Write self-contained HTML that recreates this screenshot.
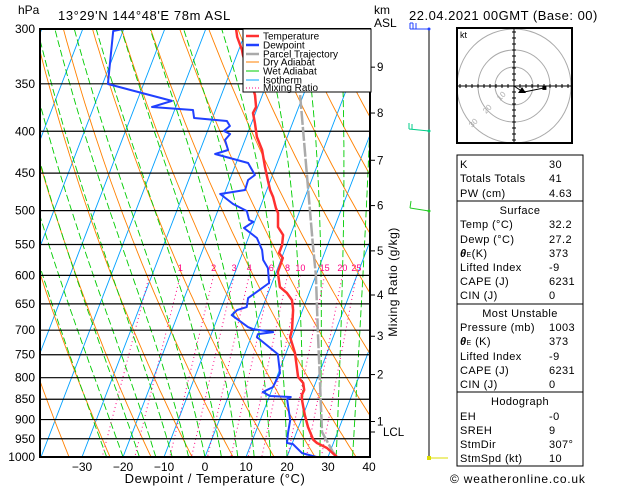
<!DOCTYPE html>
<html><head><meta charset="utf-8"><style>
html,body{margin:0;padding:0;background:#fff;}
svg{display:block;font-family:"Liberation Sans",sans-serif;}
</style></head><body>
<svg id="chart" width="629" height="486" viewBox="0 0 629 486" xmlns="http://www.w3.org/2000/svg">
<defs><clipPath id="plotclip"><rect x="40" y="29" width="330" height="428"/></clipPath>
<clipPath id="hodoclip"><rect x="457" y="28" width="115" height="115"/></clipPath></defs>
<rect x="0" y="0" width="629" height="486" fill="#fff"/>
<g id="grid" clip-path="url(#plotclip)"></g>
<g id="series" clip-path="url(#plotclip)"></g>
<g id="axes"></g>
<text x="18" y="14" font-size="12">hPa</text>
<text x="58" y="20" font-size="13" letter-spacing="0.6">13°29'N  144°48'E  78m  ASL</text>
<text x="374" y="14" font-size="12">km</text>
<text x="374" y="27" font-size="12">ASL</text>
<text x="409" y="20" font-size="13" letter-spacing="0.5">22.04.2021  00GMT  (Base: 00)</text>
<text x="215" y="483" font-size="13" text-anchor="middle" letter-spacing="0.6">Dewpoint / Temperature (°C)</text>
<text transform="translate(397,282) rotate(-90)" font-size="12" text-anchor="middle" letter-spacing="0.5">Mixing Ratio (g/kg)</text>
<g id="legend">
<rect x="243" y="29" width="128" height="63" fill="#fff" stroke="#000" stroke-width="1"/>
<line x1="246" y1="36" x2="259" y2="36" stroke="#ff3030" stroke-width="2.5"/><text x="263" y="39.5" font-size="10">Temperature</text>
<line x1="246" y1="45" x2="259" y2="45" stroke="#2040ff" stroke-width="2.5"/><text x="263" y="48.5" font-size="10">Dewpoint</text>
<line x1="246" y1="54" x2="259" y2="54" stroke="#aaa" stroke-width="2.5"/><text x="263" y="57.5" font-size="10">Parcel Trajectory</text>
<line x1="246" y1="62" x2="259" y2="62" stroke="#ff8000" stroke-width="1"/><text x="263" y="65.5" font-size="10">Dry Adiabat</text>
<line x1="246" y1="71" x2="259" y2="71" stroke="#00cc00" stroke-width="1"/><text x="263" y="74.5" font-size="10">Wet Adiabat</text>
<line x1="246" y1="80" x2="259" y2="80" stroke="#00a0ff" stroke-width="1"/><text x="263" y="83.5" font-size="10">Isotherm</text>
<line x1="246" y1="88" x2="259" y2="88" stroke="#ff0080" stroke-width="1" stroke-dasharray="1,2"/><text x="263" y="91" font-size="10">Mixing Ratio</text>
</g>
<g>
<line x1="429" y1="29" x2="429" y2="457" stroke="#000" stroke-width="1"/>
<path d="M429,29 L410,29 M410,29 L410,23 M413,29 L413,23 M416,29 L416,23 M410,23 L413,23" stroke="#2040ff" fill="none" stroke-width="1"/>
<circle cx="429" cy="29" r="1.5" fill="#2040ff"/>
<path d="M429,131 L409,129 M409,129 L409,123 M412,129 L412,124" stroke="#00cc88" fill="none" stroke-width="1"/>
<circle cx="429" cy="131" r="1.5" fill="#00cc88"/>
<path d="M429,211 L410,208 M410,208 L411,201" stroke="#22cc22" fill="none" stroke-width="1"/>
<circle cx="429" cy="211" r="1.5" fill="#22cc22"/>
<line x1="429" y1="458" x2="448" y2="458" stroke="#dddd00" stroke-width="1"/>
<rect x="427" y="456" width="4" height="4" fill="#dddd00"/>
</g>
<g id="hodo"></g>
<g font-size="11" letter-spacing="0.4">
<rect x="457" y="155" width="126" height="311" fill="#fff" stroke="#000" stroke-width="1"/>
<line x1="457" y1="201" x2="583" y2="201" stroke="#000"/>
<line x1="457" y1="304" x2="583" y2="304" stroke="#000"/>
<line x1="457" y1="392" x2="583" y2="392" stroke="#000"/>
<text x="460" y="168">K</text><text x="549" y="168">30</text>
<text x="460" y="182">Totals Totals</text><text x="549" y="182">41</text>
<text x="460" y="197">PW (cm)</text><text x="549" y="197">4.63</text>
<text x="520" y="214" text-anchor="middle">Surface</text>
<text x="460" y="228">Temp (°C)</text><text x="549" y="228">32.2</text>
<text x="460" y="243">Dewp (°C)</text><text x="549" y="243">27.2</text>
<text x="460" y="257"><tspan font-weight="bold" font-style="italic">θ</tspan><tspan font-size="7">E</tspan>(K)</text><text x="549" y="257">373</text>
<text x="460" y="271">Lifted Index</text><text x="549" y="271">-9</text>
<text x="460" y="285">CAPE (J)</text><text x="549" y="285">6231</text>
<text x="460" y="299">CIN (J)</text><text x="549" y="299">0</text>
<text x="520" y="317" text-anchor="middle">Most Unstable</text>
<text x="460" y="331">Pressure (mb)</text><text x="549" y="331">1003</text>
<text x="460" y="345"><tspan font-weight="bold" font-style="italic">θ</tspan><tspan font-size="7">E</tspan> (K)</text><text x="549" y="345">373</text>
<text x="460" y="360">Lifted Index</text><text x="549" y="360">-9</text>
<text x="460" y="374">CAPE (J)</text><text x="549" y="374">6231</text>
<text x="460" y="388">CIN (J)</text><text x="549" y="388">0</text>
<text x="520" y="405" text-anchor="middle">Hodograph</text>
<text x="460" y="420">EH</text><text x="549" y="420">-0</text>
<text x="460" y="434">SREH</text><text x="549" y="434">9</text>
<text x="460" y="448">StmDir</text><text x="549" y="448">307°</text>
<text x="460" y="462">StmSpd (kt)</text><text x="549" y="462">10</text>
</g>
<text x="450" y="483" font-size="12" letter-spacing="0.8">© weatheronline.co.uk</text>
</svg>
<script>
// ---- data ----
const pressureLevels = [300,350,400,450,500,550,600,650,700,750,800,850,900,950,1000];
const tempTicks = [-30,-20,-10,0,10,20,30,40];
const kmTicks = [1,2,3,4,5,6,7,8,9];
const kmPressures = [905,793,712,634,560,493,434,380,334];
const tempP = [300,306.8,318.3,322.8,361.2,373.6,380,390.8,406.5,421.6,442.3,458.8,471.9,481.3,496.3,503.4,523.6,535.5,550.8,558.6,563.4,571.4,594.5,619.9,630.6,643.2,661.5,699.8,713.7,746.6,798.5,812.1,828.4,840,851.9,888.6,919.1,952.9,961.5,975,1000];
const tempT = [-32.6,-31.6,-29.2,-28.5,-21.8,-20.4,-20.6,-19.2,-17.4,-14.9,-12.6,-10.7,-9.2,-7.8,-6.1,-5.1,-3.8,-1.8,-1.1,-1.1,-1.1,0.3,0.4,2.3,4.6,6.5,7.7,9.3,9.5,12.2,15.2,17.0,17.9,17.8,18.3,20.4,22.3,24.8,26.0,28.9,32.2];
const dewP = [300,301.7,350.2,367.3,373.6,376.8,385.3,388.6,394.1,399.7,403.1,409.9,421.6,426.4,437.3,452.4,458.8,471.9,477.2,490.8,500.6,513.4,516,525.1,540.1,558.6,574.6,587.7,613,639.5,655.9,661.5,670.9,694,697.9,703.8,707.8,713.7,748.7,789.7,821.4,833,842.4,844.8,850,901.3,934.9,961.5,964,989,1000];
const dewT = [-60.2,-62.4,-58.7,-41.5,-45.8,-35.5,-34.5,-26.2,-25.0,-26.0,-24.2,-24.9,-23.2,-26.0,-17.1,-14.3,-15.5,-15.3,-21.0,-16.9,-12.9,-11.5,-10.3,-12.0,-7.9,-5.5,-4.3,-2.4,-0.7,-4.4,-3.9,-6.0,-6.8,-1.7,-0.3,4.9,1.4,1.4,8.1,10.4,10.0,8.0,10.1,15.3,14.6,17.3,18.0,18.7,20.2,23.3,27.2];
const parcelP = [361.2,550.8,600,700,805.3,932.2,987,1000];
const parcelT = [-10.8,6.4,10.0,15.6,20.8,26.2,30.8,32.2];
const mixRatios = [0.5,1,2,3,4,6,8,10,15,20,25];
const mixLabels = ["","1","2","3","4","6","8","10","15","20","25"];
const hodoU = [0,3,6,16];
const hodoV = [0,-2,-3,-1];

// ---- scales ----
const NS = "http://www.w3.org/2000/svg";
function yP(p){ return 29 + Math.log(p/300)/Math.log(1000/300)*428; }
function xT(T,p){ return 205 + 4.1*T + 0.385*(457 - yP(p)); }
function mk(tag, attrs, parent){ const el=document.createElementNS(NS,tag); for(const k in attrs) el.setAttribute(k,attrs[k]); parent.appendChild(el); return el; }
const grid=document.getElementById('grid'), series=document.getElementById('series'), axes=document.getElementById('axes'), hodo=document.getElementById('hodo');

function pathFrom(ps, ts){ let d=''; for(let i=0;i<ps.length;i++){ d+=(i?'L':'M')+xT(ts[i],ps[i]).toFixed(1)+','+yP(ps[i]).toFixed(1);} return d; }

for(let T=-140;T<=40;T+=10){
  const l=mk('line',{x1:xT(T,1000),y1:yP(1000),x2:xT(T,300),y2:yP(300),stroke:'#00a0ff','stroke-width':0.9},grid);
  
  
}
for(let th=230;th<=480;th+=10){
  const ps=[],ts=[]; for(let p=1000;p>=300;p-=10){ps.push(p);ts.push(th*Math.pow(p/1000,0.286)-273.15);}
  const el=mk('path',{d:pathFrom(ps,ts),stroke:'#ff8000','stroke-width':0.9,fill:'none'},grid);
  
  
}
function es(T){return 6.112*Math.exp(17.67*T/(T+243.5));}
for(let T0=-24;T0<=36;T0+=4){
  const ps=[],ts=[]; let T=T0;
  for(let p=1000;p>=300;p-=5){ ps.push(p); ts.push(T);
    const Tk=T+273.15, rs=0.622*es(T)/(p-es(T));
    const dTdp=(287*Tk+2.5e6*rs)/(1004+2.5e6*2.5e6*rs*0.622/(287*Tk*Tk))/p;
    T -= dTdp*5; }
  const el=mk('path',{d:pathFrom(ps,ts),stroke:'#00cc00','stroke-width':0.9,fill:'none','stroke-dasharray':'7,3'},grid);
  
  
}
function tdFromW(w,p){const ev=w*p/(622+w); const a=Math.log(ev/6.112); return 243.5*a/(17.67-a);}
mixRatios.forEach((w,i)=>{
  const ps=[600,1000], ts=[tdFromW(w,600),tdFromW(w,1000)];
  const el=mk('path',{d:pathFrom(ps,ts),stroke:'#ff0080','stroke-width':1,fill:'none','stroke-dasharray':'1,3'},grid);
  
  
  if(mixLabels[i]){
    const t=mk('text',{x:xT(ts[0],600),y:271,'font-size':9,fill:'#ff0080','text-anchor':'middle'},axes);
    t.textContent=mixLabels[i];
    
    
  }
});
pressureLevels.forEach(p=>{
  const l=mk('line',{x1:40,y1:yP(p),x2:370,y2:yP(p),stroke:'#000','stroke-width':1.2},grid);
  
  
  const t=mk('text',{x:35,y:yP(p)+4,'font-size':12,'text-anchor':'end'},axes);
  t.textContent=p;
  
  
});
let e;
e=mk('path',{d:pathFrom(parcelP,parcelT),stroke:'#aaaaaa','stroke-width':2.5,fill:'none','stroke-dasharray':'14,2'},series);


e=mk('path',{d:pathFrom(dewP,dewT),stroke:'#2040ff','stroke-width':2,fill:'none','stroke-linejoin':'round'},series);


e=mk('path',{d:pathFrom(tempP,tempT),stroke:'#ff3030','stroke-width':2.5,fill:'none','stroke-linejoin':'round'},series);


e=mk('rect',{x:40,y:29,width:330,height:428,fill:'none',stroke:'#000','stroke-width':2},axes);


tempTicks.forEach(T=>{
  const t=mk('text',{x:205+4.1*T,y:471,'font-size':12,'text-anchor':'middle'},axes);
  t.textContent=T<0?('\u2212'+(-T)):String(T);
  
  
});
kmTicks.forEach((k,i)=>{
  const y=yP(kmPressures[i]);
  mk('line',{x1:370,y1:y,x2:375,y2:y,stroke:'#000'},axes);
  const t=mk('text',{x:377,y:y+4,'font-size':11.5},axes);
  t.textContent=k;
  
  
});
mk('line',{x1:370,y1:432,x2:375,y2:432,stroke:'#000'},axes);
e=mk('text',{x:383,y:436,'font-size':11.5},axes); e.textContent='LCL';


document.getElementById('chart').appendChild(document.getElementById('legend'));

const hx=514, hy=86;
mk('rect',{x:457,y:28,width:115,height:115,fill:'#fff'},hodo);
const hc=mk('g',{'clip-path':'url(#hodoclip)'},hodo);
[19,36,57].forEach(r=>{ mk('circle',{cx:hx,cy:hy,r:r,fill:'none',stroke:'#aaa','stroke-width':1},hc); });
mk('line',{x1:458,y1:hy,x2:571,y2:hy,stroke:'#000'},hodo);
mk('line',{x1:hx,y1:29,x2:hx,y2:142,stroke:'#000'},hodo);
for(let d=-54;d<=54;d+=6){ if(!d)continue; mk('line',{x1:hx+d,y1:hy-2,x2:hx+d,y2:hy+2,stroke:'#000'},hodo); mk('line',{x1:hx-2,y1:hy+d,x2:hx+2,y2:hy+d,stroke:'#000'},hodo);}
mk('rect',{x:457,y:28,width:115,height:115,fill:'none',stroke:'#000','stroke-width':2},hodo);
[['10',500,101],['20',486,114],['30',472,128]].forEach(a=>{const t=mk('text',{x:a[1],y:a[2],'font-size':8,fill:'#aaa',transform:'rotate(-45 '+a[1]+' '+a[2]+')'},hodo); t.textContent=a[0];});
e=mk('text',{x:460,y:38,'font-size':9},hodo); e.textContent='kt';
let hd=''; hodoU.forEach((u,i)=>{hd+=(i?'L':'M')+(hx+u*1.9)+','+(hy-hodoV[i]*1.9);});
e=mk('path',{d:hd,stroke:'#000',fill:'none','stroke-width':1},hodo);


mk('rect',{x:hx+hodoU[3]*1.9-2,y:hy-hodoV[3]*1.9-2,width:4,height:4,fill:'#000'},hodo);
mk('path',{d:'M'+(hx+8)+','+(hy+1)+' l-4,6 l8,0 z',fill:'#000'},hodo);
</script>
</body></html>
